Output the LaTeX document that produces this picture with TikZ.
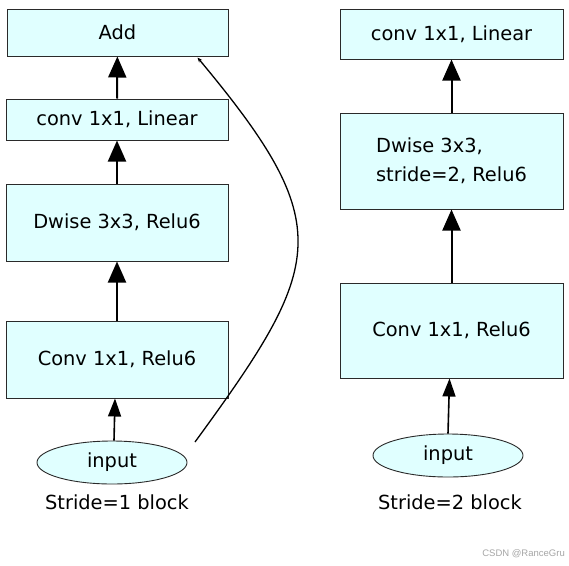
\documentclass[tikz,border=0pt]{standalone}
\usepackage{fontspec}
\setmainfont{DejaVu Sans}
\newfontfamily\wmfont{Liberation Sans}
\usetikzlibrary{arrows.meta,shapes.geometric}
\definecolor{boxfill}{HTML}{E0FFFF}
\definecolor{boxline}{HTML}{2A2A2A}
\begin{document}
\begin{tikzpicture}[x=1pt,y=-1pt,
  layer/.style={draw=boxline,line width=1pt,fill=boxfill,rectangle,inner sep=0pt,
    minimum width=222pt,font=\fontsize{19.4}{29}\selectfont,text=black},
  inp/.style={draw=boxline,line width=0.9pt,fill=boxfill,ellipse,inner sep=0pt,
    minimum width=150pt,minimum height=43pt,font=\fontsize{19.4}{23}\selectfont},
  blocklabel/.style={font=\fontsize{19.4}{23}\selectfont,inner sep=0pt},
  flow/.style={line width=2pt,-{Triangle[length=21pt,width=18pt]}},
  inflow/.style={line width=1.6pt,-{Triangle[length=18pt,width=13pt]}},
  skip/.style={line width=1.3pt,-{Stealth[length=5pt,width=4pt]}}]
\useasboundingbox[fill=white] (0,0) rectangle (569,565);
% left block
\node[layer,minimum width=221pt,minimum height=47pt] (add) at (117.5,32.5) {Add};
\node[layer,minimum height=41pt] (lin1) at (117,119.5) {conv 1x1, Linear};
\node[layer,minimum height=77pt] (dw1) at (117,222.5) {Dwise 3x3, Relu6};
\node[layer,minimum height=77pt] (cv1) at (117,359.5) {Conv 1x1, Relu6};
\node[inp] (in1) at (112,462.5) {input};
\node[blocklabel] (lab1) at (117,502) {Stride=1 block};
\draw[inflow] ([xshift=2pt]in1.north) -- ([xshift=-2pt]cv1.south);
\draw[flow] (cv1) -- (dw1);
\draw[flow] (dw1) -- (lin1);
\draw[flow] (lin1) -- (add);
\coordinate (skipstart) at (195,442);
\coordinate (skipend) at ([xshift=-31pt,yshift=-1pt]add.south east);
\draw[skip] (skipstart) .. controls (325,264) and (338,226) .. (skipend);
% right block
\node[layer,minimum width=223pt,minimum height=50pt] (lin2) at (451.5,34) {conv 1x1, Linear};
\node[layer,minimum width=223pt,minimum height=96pt,align=left] (dw2) at (451.5,161) {Dwise 3x3,\\stride=2, Relu6};
\node[layer,minimum width=223pt,minimum height=95pt] (cv2) at (451.5,330.5) {Conv 1x1, Relu6};
\node[inp] (in2) at (448,455.5) {input};
\node[blocklabel] (lab2) at (450,502) {Stride=2 block};
\draw[inflow] (in2.north) -- ([xshift=-2pt]cv2.south);
\draw[flow] (cv2) -- (dw2);
\draw[flow] (dw2) -- (lin2);
\node[font=\wmfont\fontsize{9.5}{11}\selectfont,text=black!35,anchor=east,inner sep=0pt] (wm) at (565,554) {CSDN @RanceGru};
\end{tikzpicture}
\end{document}
